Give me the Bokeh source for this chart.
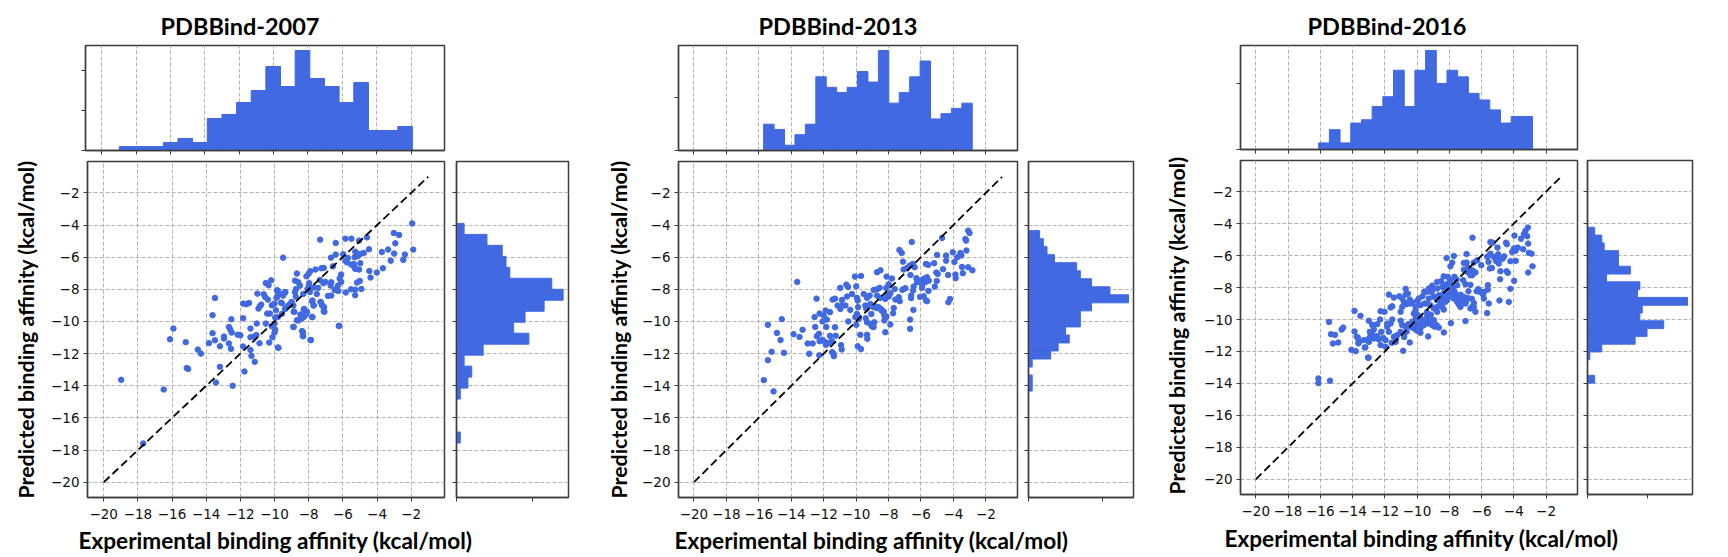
import numpy as np
from bokeh.embed import file_html
from bokeh.layouts import column, row
from bokeh.models import FixedTicker, Range1d, Title
from bokeh.plotting import figure
from bokeh.resources import INLINE

# tick values and labels shared by the panels
ticks = [-20, -18, -16, -14, -12, -10, -8, -6, -4, -2]
tick_labels = ["\u221220", "\u221218", "\u221216", "\u221214", "\u221212", "\u221210", "\u22128", "\u22126", "\u22124", "\u22122"]
diagonal = [-20, -1]

titles = ["PDBBind-2007", "PDBBind-2013", "PDBBind-2016"]
xlabel = "Experimental binding affinity (kcal/mol)"
ylabel = "Predicted binding affinity (kcal/mol)"

# histogram counts, 20 bins each
top_2007 = [1, 1, 1, 2, 3, 2, 8, 9, 12, 15, 21, 16, 25, 18, 16, 12, 17, 5, 5, 6]
top_2013 = [5, 4, 1, 3, 5, 14, 12, 11, 12, 15, 13, 19, 9, 11, 14, 17, 6, 7, 8, 9]
top_2016 = [2, 6, 2, 8, 9, 13, 16, 24, 13, 24, 30, 20, 24, 22, 17, 15, 12, 8, 10, 10]
right_2007 = [1, 0, 0, 0, 1, 3, 4, 2, 7, 19, 15, 18, 23, 28, 25, 14, 13, 12, 8, 2]
right_2013 = [1, 1, 0, 1, 6, 8, 11, 10, 14, 14, 17, 27, 22, 17, 14, 13, 7, 5, 4, 3]
right_2016 = [3, 0, 0, 1, 6, 20, 25, 32, 22, 23, 42, 21, 22, 8, 18, 13, 13, 7, 6, 3]

# bin limits of the histograms
top_limits = [(-18.98, -1.92), (-15.7, -2.84), (-16.1, -2.84)]
right_limits = [(-17.56, -3.9), (-14.33, -4.35), (-13.98, -4.23)]
top_ticks = [[0, 10, 20], [0, 10], [0, 20]]
right_ticks = [[0, 20], [0, 20], [0, 25]]

# (experimental, predicted) points
points_2007 = [
    (-18.98, -13.63), (-16.49, -14.23), (-17.69, -17.59), (-15.92, -10.44), (-16.12, -11.11), (-15.2, -11.29),
    (-14.49, -11.75), (-14.31, -12.0), (-15.14, -12.9), (-15.06, -12.95), (-13.49, -8.54), (-13.63, -9.61),
    (-13.63, -10.73), (-13.84, -11.35), (-13.49, -11.17), (-13.2, -11.54), (-12.96, -10.94), (-12.96, -11.06),
    (-12.67, -11.37), (-12.55, -11.7), (-13.2, -12.82), (-13.43, -13.8), (-12.45, -14.0), (-12.67, -10.34),
    (-12.53, -9.86), (-12.59, -10.5), (-12.51, -10.69), (-11.84, -9.8), (-12.16, -10.82), (-12.0, -10.86),
    (-11.84, -11.56), (-11.76, -13.11), (-11.41, -10.44), (-11.41, -10.98), (-11.2, -10.94), (-11.06, -10.84),
    (-10.88, -11.35), (-11.41, -11.77), (-11.35, -12.14), (-11.16, -12.51), (-11.04, -10.13), (-11.84, -8.89),
    (-11.65, -8.93), (-11.49, -8.85), (-11.0, -8.27), (-10.94, -9.2), (-10.78, -8.95), (-10.86, -9.06),
    (-10.63, -8.31), (-10.55, -8.48), (-10.39, -8.64), (-10.51, -7.61), (-10.35, -7.75), (-10.2, -7.44),
    (-10.43, -9.51), (-10.27, -9.51), (-10.51, -10.13), (-10.31, -11.31), (-10.12, -10.98), (-9.8, -11.62),
    (-10.0, -10.13), (-10.16, -10.3), (-9.96, -10.5), (-10.0, -10.69), (-10.16, -8.99), (-10.0, -8.89),
    (-9.92, -9.3), (-9.86, -8.06), (-9.78, -8.27), (-9.88, -8.52), (-9.61, -8.83), (-9.47, -8.27),
    (-9.37, -8.19), (-9.96, -9.76), (-8.88, -10.34), (-8.88, -9.39), (-9.0, -8.79), (-9.18, -8.99),
    (-9.37, -9.2), (-8.39, -10.6), (-8.35, -10.9), (-7.9, -11.15), (-8.69, -9.93), (-8.49, -9.82),
    (-8.29, -9.72), (-8.49, -9.57), (-8.29, -9.26), (-8.1, -9.41), (-7.8, -9.72), (-7.8, -8.75),
    (-7.7, -9.0), (-7.31, -8.79), (-7.22, -8.99), (-7.12, -9.1), (-7.12, -9.37), (-6.24, -10.28),
    (-1.94, -3.9), (-1.88, -5.53), (-2.37, -5.84), (-2.46, -6.17), (-3.02, -4.5), (-2.71, -4.62),
    (-2.93, -5.14), (-3.0, -5.78), (-3.2, -6.22), (-3.35, -5.53), (-3.72, -5.68), (-3.66, -6.69),
    (-4.01, -6.96), (-4.38, -7.27), (-4.45, -6.86), (-4.47, -5.51), (-4.59, -4.77), (-5.05, -4.97),
    (-5.5, -4.85), (-5.85, -4.85), (-6.42, -5.12), (-7.33, -4.91), (-9.5, -6.03), (-4.78, -5.74),
    (-4.97, -5.8), (-5.27, -5.66), (-5.18, -5.8), (-5.31, -6.0), (-5.14, -5.94), (-5.98, -5.82),
    (-6.42, -5.84), (-6.7, -6.03), (-5.71, -6.05), (-5.85, -6.22), (-5.77, -6.32), (-4.98, -6.38),
    (-5.52, -6.46), (-5.36, -6.42), (-5.32, -6.63), (-5.27, -6.73), (-5.05, -6.77), (-6.58, -6.57),
    (-7.12, -6.67), (-7.26, -6.69), (-7.6, -6.77), (-7.91, -6.88), (-8.01, -7.04), (-8.13, -7.19),
    (-8.69, -7.02), (-6.1, -7.08), (-6.19, -7.33), (-6.1, -7.54), (-7.35, -7.42), (-7.02, -7.54),
    (-7.14, -7.62), (-6.68, -7.56), (-6.72, -7.77), (-6.29, -7.77), (-6.39, -7.98), (-5.01, -7.48),
    (-5.17, -7.58), (-4.92, -7.98), (-5.52, -8.0), (-5.28, -8.02), (-5.83, -8.2), (-5.28, -8.37),
    (-6.27, -8.1), (-6.68, -8.39), (-6.87, -8.41), (-6.48, -8.04), (-7.97, -7.62), (-7.99, -7.77),
    (-8.07, -7.98), (-8.8, -7.46), (-8.61, -7.56), (-8.51, -7.77), (-8.74, -7.98), (-8.8, -8.18),
    (-7.68, -7.89), (-7.45, -7.91), (-7.93, -8.16), (-7.53, -8.29), (-8.32, -8.29), (-8.76, -8.45),
    (-9.01, -8.8), (-9.57, -8.87), (-8.9, -9.01), (-7.78, -8.7), (-7.72, -9.01), (-7.29, -8.8),
    (-7.21, -9.01), (-7.1, -9.13), (-7.08, -9.4), (-8.84, -9.4), (-8.26, -9.22), (-8.13, -9.49),
    (-8.22, -9.63), (-7.78, -9.73), (-8.45, -9.63), (-8.42, -9.84), (-8.61, -9.94), (-9.38, -9.22),
    (-9.19, -9.01), (-9.57, -9.53), (-9.81, -9.73), (-8.9, -10.34), (-8.34, -10.67), (-8.32, -10.92),
    (-7.87, -11.16), (-6.21, -10.27), (-9.77, -11.64), (-9.81, -8.08), (-9.73, -8.29), (-9.38, -8.18),
    (-9.5, -8.39), (-9.87, -8.51),
]

points_2013 = [
    (-3.09, -4.35), (-3.01, -4.5), (-3.26, -4.87), (-3.22, -4.97), (-4.7, -4.81), (-6.57, -5.06),
    (-7.33, -5.55), (-7.19, -5.74), (-5.01, -5.86), (-4.04, -5.7), (-3.57, -5.74), (-3.51, -5.9),
    (-3.77, -6.01), (-3.2, -5.59), (-4.45, -5.9), (-4.45, -6.22), (-3.94, -6.3), (-7.11, -6.28),
    (-5.69, -6.42), (-5.56, -6.48), (-5.19, -6.38), (-3.47, -6.61), (-3.09, -6.63), (-2.83, -6.82),
    (-4.64, -6.75), (-3.42, -7.0), (-3.88, -7.08), (-3.86, -7.31), (-4.33, -7.11), (-5.05, -6.96),
    (-4.97, -7.04), (-6.39, -6.63), (-6.51, -6.42), (-6.7, -6.53), (-6.86, -6.67), (-7.07, -6.77),
    (-6.65, -7.11), (-8.71, -6.94), (-8.5, -6.82), (-10.07, -7.21), (-9.7, -7.17), (-8.12, -7.21),
    (-7.79, -7.33), (-13.63, -7.54), (-10.6, -7.71), (-10.5, -7.85), (-9.99, -7.81), (-10.98, -7.91),
    (-7.99, -7.69), (-8.14, -7.91), (-7.62, -7.98), (-8.92, -8.04), (-8.71, -8.0), (-8.55, -7.91),
    (-6.28, -7.31), (-6.24, -7.56), (-6.45, -7.83), (-6.04, -7.46), (-5.83, -7.35), (-5.63, -7.25),
    (-5.52, -7.46), (-5.73, -7.56), (-5.93, -7.71), (-5.93, -7.91), (-5.15, -7.83), (-5.03, -7.48),
    (-5.54, -8.1), (-6.49, -8.08), (-6.61, -8.39), (-6.61, -8.55), (-7.07, -7.98), (-6.96, -7.93),
    (-7.15, -8.04), (-6.06, -8.47), (-5.83, -8.43), (-5.69, -8.7), (-5.63, -8.74), (-4.21, -8.6),
    (-4.31, -8.8), (-7.89, -8.25), (-7.99, -8.45), (-8.2, -8.6), (-8.09, -8.39), (-7.58, -8.64),
    (-7.37, -8.49), (-7.31, -8.74), (-8.71, -8.39), (-8.51, -8.53), (-9.53, -8.29), (-9.33, -8.53),
    (-9.16, -8.39), (-10.26, -8.29), (-10.56, -8.45), (-9.95, -8.53), (-9.9, -8.7), (-10.87, -8.66),
    (-11.3, -8.58), (-11.45, -8.64), (-12.44, -8.58), (-11.14, -9.01), (-10.97, -9.22), (-10.66, -9.01),
    (-10.87, -9.01), (-10.36, -9.28), (-9.88, -9.11), (-9.43, -9.01), (-9.37, -9.22), (-9.12, -8.91),
    (-8.92, -9.11), (-8.71, -9.18), (-8.47, -9.22), (-8.3, -9.38), (-8.14, -9.69), (-9.06, -9.53),
    (-7.68, -9.16), (-7.72, -9.49), (-6.47, -9.28), (-6.67, -9.88), (-6.67, -10.46), (-8.26, -9.94),
    (-7.89, -10.19), (-8.2, -10.67), (-9.41, -9.8), (-9.33, -10.05), (-9.12, -10.15), (-8.88, -10.05),
    (-9.02, -10.31), (-9.95, -9.53), (-10.05, -9.73), (-9.84, -9.73), (-9.99, -10.21), (-10.48, -10.0),
    (-9.74, -10.83), (-9.33, -10.83), (-9.31, -11.08), (-9.9, -11.54), (-9.7, -11.72), (-10.93, -11.47),
    (-10.89, -11.74), (-11.47, -11.91), (-11.39, -12.01), (-11.37, -12.16), (-11.3, -10.36), (-11.8, -9.88),
    (-12.07, -10.0), (-11.88, -9.32), (-11.61, -9.42), (-12.0, -9.63), (-12.25, -9.51), (-12.56, -9.73),
    (-12.52, -10.34), (-11.84, -10.34), (-13.3, -10.52), (-13.86, -10.79), (-13.49, -10.96), (-14.58, -9.86),
    (-15.44, -10.21), (-14.88, -10.71), (-14.66, -11.16), (-15.21, -11.89), (-14.45, -11.95), (-15.44, -12.41),
    (-15.69, -13.65), (-15.09, -14.35), (-12.99, -11.37), (-12.68, -11.37), (-12.89, -12.01), (-12.27, -12.1),
    (-12.29, -10.77), (-12.42, -10.92), (-12.25, -11.23), (-12.07, -11.14), (-11.9, -11.29), (-11.7, -11.35),
    (-11.86, -11.45), (-11.49, -11.23), (-11.61, -10.89), (-11.26, -10.89), (-8.61, -9.11), (-8.41, -9.34),
    (-8.14, -9.73), (-8.26, -9.63), (-8.82, -9.05), (-9.84, -9.84), (-9.02, -10.25), (-8.92, -10.35),
]

points_2016 = [
    (-16.12, -13.69), (-16.12, -13.98), (-15.4, -13.83), (-15.46, -10.15), (-15.34, -10.92), (-15.09, -10.96),
    (-15.22, -11.5), (-14.89, -11.44), (-14.68, -10.63), (-14.58, -10.5), (-13.88, -9.46), (-13.51, -9.77),
    (-13.88, -10.75), (-14.07, -11.9), (-13.8, -11.98), (-13.74, -11.08), (-13.63, -11.4), (-13.63, -11.5),
    (-13.04, -12.38), (-13.24, -11.75), (-3.13, -4.25), (-3.28, -4.46), (-3.38, -4.67), (-3.17, -4.79),
    (-3.96, -4.75), (-6.56, -4.88), (-5.45, -5.15), (-5.3, -5.19), (-4.48, -5.19), (-4.43, -5.29),
    (-5.01, -5.5), (-3.11, -5.25), (-3.42, -5.6), (-4.0, -5.56), (-3.9, -5.71), (-4.1, -5.77),
    (-3.86, -5.56), (-3.07, -5.83), (-2.9, -5.88), (-6.93, -5.9), (-5.49, -5.94), (-4.97, -5.92),
    (-5.24, -6.08), (-5.57, -6.4), (-7.72, -6.02), (-8.17, -6.15), (-4.21, -6.35), (-3.88, -6.33),
    (-5.09, -6.35), (-4.93, -6.5), (-7.1, -6.46), (-6.93, -6.44), (-6.48, -6.44), (-6.02, -6.6),
    (-7.82, -6.44), (-7.93, -6.67), (-2.84, -6.67), (-3.11, -7.06), (-5.49, -6.81), (-5.36, -6.77),
    (-4.83, -6.98), (-4.45, -6.98), (-4.37, -7.08), (-7.1, -6.88), (-6.85, -6.75), (-6.58, -6.92),
    (-6.38, -7.06), (-6.69, -7.23), (-4.85, -7.48), (-3.98, -7.58), (-8.09, -7.33), (-7.68, -7.33),
    (-7.93, -7.58), (-8.09, -7.75), (-7.14, -7.54), (-7.0, -7.79), (-6.69, -7.83), (-8.75, -7.65),
    (-9.06, -7.88), (-9.27, -8.06), (-9.41, -8.27), (-7.51, -7.85), (-7.82, -8.0), (-8.03, -8.13),
    (-10.71, -8.08), (-11.75, -8.44), (-11.44, -8.63), (-10.57, -8.38), (-10.71, -8.44), (-5.61, -7.85),
    (-5.61, -8.13), (-5.86, -8.27), (-6.11, -8.27), (-6.31, -8.23), (-4.21, -8.08), (-6.81, -8.23),
    (-5.86, -8.69), (-5.55, -9.0), (-4.89, -8.81), (-4.31, -8.9), (-7.1, -8.58), (-6.85, -8.65),
    (-7.62, -8.38), (-8.34, -8.69), (-8.13, -8.79), (-7.93, -8.54), (-8.55, -8.9), (-7.72, -8.69),
    (-7.51, -8.9), (-7.41, -9.06), (-7.0, -9.0), (-6.48, -8.96), (-6.58, -9.21), (-6.69, -9.31),
    (-6.38, -9.52), (-7.31, -9.21), (-7.2, -9.0), (-5.65, -9.6), (-7.0, -10.1), (-7.9, -10.23),
    (-8.34, -10.81), (-9.31, -11.06), (-10.45, -11.44), (-10.86, -11.96), (-13.01, -12.4), (-12.26, -9.48),
    (-12.02, -9.52), (-12.99, -10.08), (-12.78, -10.35), (-12.47, -10.29), (-12.29, -10.0), (-12.93, -10.77),
    (-12.78, -10.88), (-12.68, -10.63), (-12.88, -10.98), (-13.3, -11.29), (-12.99, -11.4), (-13.21, -11.75),
    (-12.99, -11.19), (-13.67, -11.13), (-13.61, -11.4), (-12.68, -11.19), (-12.37, -11.25), (-12.26, -11.6),
    (-11.95, -11.29), (-11.95, -11.71), (-12.22, -10.77), (-11.85, -10.46), (-11.64, -10.25), (-11.54, -10.0),
    (-11.75, -10.77), (-11.44, -11.08), (-11.23, -10.98), (-11.33, -11.4), (-11.58, -11.46), (-11.02, -10.08),
    (-10.92, -10.35), (-10.71, -10.46), (-10.82, -10.88), (-10.65, -10.77), (-10.4, -10.46), (-10.3, -10.15),
    (-10.2, -10.56), (-10.2, -9.63), (-9.95, -9.73), (-9.79, -9.88), (-10.09, -9.94), (-9.89, -10.25),
    (-9.79, -10.56), (-9.79, -10.83), (-9.58, -10.35), (-9.37, -9.83), (-9.17, -9.94), (-8.96, -10.04),
    (-8.79, -10.35), (-8.65, -10.5), (-9.06, -10.35), (-9.27, -10.25), (-9.54, -9.0), (-9.99, -8.83),
    (-10.3, -8.94), (-10.65, -9.04), (-10.92, -9.21), (-11.02, -9.52), (-10.92, -8.69), (-10.82, -8.9),
    (-11.54, -9.17), (-11.64, -9.25), (-10.09, -9.21), (-9.79, -9.1), (-9.37, -9.0), (-9.17, -9.1),
    (-8.75, -9.21), (-8.34, -9.38), (-8.96, -9.31), (-8.75, -9.52), (-9.27, -8.69), (-8.96, -8.58),
    (-8.75, -8.79), (-8.65, -8.48), (-9.06, -8.17), (-8.75, -8.06), (-8.44, -7.96), (-8.24, -8.06),
    (-9.66, -8.54), (-12.68, -10.35), (-11.85, -10.25), (-11.02, -10.77), (-9.99, -10.35), (-9.48, -10.04),
    (-8.96, -10.25), (-10.09, -9.42), (-7.93, -8.38), (-7.41, -8.65), (-8.24, -8.9), (-8.03, -8.48),
    (-6.27, -6.29), (-5.14, -6.19), (-6.89, -7.02), (-6.48, -7.02), (-6.58, -7.23), (-5.45, -5.88),
    (-5.65, -6.08), (-5.04, -6.19), (-10.4, -9.0), (-9.89, -8.69), (-8.44, -9.21), (-7.31, -8.79),
    (-6.48, -9.21), (-8.24, -7.85), (-12.47, -11.04), (-12.1, -11.15), (-11.3, -11.21), (-10.8, -11.1),
    (-10.55, -10.3), (-10.0, -10.7), (-9.65, -10.15), (-8.9, -10.45), (-9.4, -9.55), (-9.15, -9.7),
    (-8.55, -9.1), (-8.6, -8.6), (-8.35, -8.35), (-7.7, -8.2), (-7.3, -8.45), (-7.15, -8.75),
    (-6.95, -8.85), (-6.6, -8.7), (-6.2, -8.1), (-5.9, -8.45), (-4.7, -6.2), (-4.6, -6.05),
    (-3.75, -5.5), (-3.55, -4.95), (-11.1, -8.55), (-10.45, -8.75), (-9.55, -8.25), (-9.1, -8.3),
    (-8.5, -7.6), (-8.35, -7.3), (-7.55, -7.5),
]

# frame and border sizes of each panel, in pixels
panels = [
    dict(years=(top_2007, right_2007, points_2007), sw=448, hw=124, sl=85, hl=8, top_h=155, sc_h=368,
         ttl_off=75, xl_off=-7, yl_off=-1, yl_stand=20, cap_h=34),
    dict(years=(top_2013, right_2013, points_2013), sw=449, hw=116, sl=106, hl=7, top_h=155, sc_h=368,
         ttl_off=80, xl_off=-4, yl_off=-1, yl_stand=16, cap_h=34),
    dict(years=(top_2016, right_2016, points_2016), sw=444, hw=115, sl=103, hl=6, top_h=154, sc_h=366,
         ttl_off=67, xl_off=-16, yl_off=0, yl_stand=24, cap_h=35),
]

BLUE = "royalblue"
SPINE = "#3c3c3c"
GRID = "#b4b4b4"
BOLD = "Lato"


def style(p, xticks, yticks, xlabels=False, ylabels=False):
    for ax, tk, show in ((p.xaxis[0], xticks, xlabels), (p.yaxis[0], yticks, ylabels)):
        ax.ticker = FixedTicker(ticks=tk)
        ax.axis_line_color = SPINE
        ax.axis_line_width = 1.3
        ax.major_tick_line_color = SPINE
        ax.major_tick_in = 0
        ax.major_tick_out = 4
        ax.minor_tick_line_color = None
        if show:
            ax.major_label_overrides = dict(zip(ticks, tick_labels))
            ax.major_label_text_font = "DejaVu Sans"
            ax.major_label_text_font_size = "13.5px"
            ax.major_label_text_color = "#111111"
            ax.major_label_standoff = 4
        else:
            ax.major_label_overrides = {t: "" for t in tk}
            ax.major_label_text_font_size = "1px"
            ax.major_label_standoff = 0
    p.outline_line_color = SPINE
    p.outline_line_width = 1.5
    p.background_fill_color = "white"
    for g in (p.xgrid[0], p.ygrid[0]):
        g.grid_line_color = GRID
        g.grid_line_dash = "4 2"
        g.grid_line_width = 1


def make_panel(i, cfg):
    top, right, pts = cfg["years"]
    edges_t = np.linspace(*top_limits[i], len(top) + 1)
    edges_r = np.linspace(*right_limits[i], len(right) + 1)
    lim = (-20.95, -0.05)

    # top histogram
    pt = figure(width=cfg["sw"], height=cfg["top_h"], output_backend="svg", toolbar_location=None,
                x_range=Range1d(*lim), y_range=Range1d(0, max(top) * 1.05),
                min_border_left=cfg["sl"], min_border_right=4, min_border_top=45, min_border_bottom=5)
    pt.quad(left=edges_t[:-1], right=edges_t[1:], bottom=0, top=top, color=BLUE, line_width=1)
    style(pt, ticks, top_ticks[i])
    pt.ygrid.visible = False
    pt.title.text = titles[i]
    pt.title.align = "left"
    pt.title.offset = cfg["ttl_off"]
    pt.title.text_font = BOLD
    pt.title.text_font_size = "23.5px"
    pt.title.text_font_style = "bold"
    pt.title.text_color = "black"
    pt.title.standoff = 11

    # scatter
    ps = figure(width=cfg["sw"], height=cfg["sc_h"], output_backend="svg", toolbar_location=None,
                x_range=Range1d(*lim), y_range=Range1d(*lim),
                min_border_left=cfg["sl"], min_border_right=4, min_border_top=6, min_border_bottom=26)
    style(ps, ticks, ticks, True, True)
    ps.xaxis[0].major_label_standoff = 7
    xs, ys = zip(*pts)
    ps.scatter(xs, ys, size=5.5, color=BLUE)
    ps.line(diagonal, diagonal, line_color="black", line_width=1.8, line_dash="8 4")
    ps.add_layout(Title(text=ylabel, align="left", offset=cfg["yl_off"], standoff=cfg["yl_stand"], text_font=BOLD,
                        text_font_size="21.35px", text_font_style="bold", text_color="black"), "left")

    # right histogram
    pr = figure(width=cfg["hw"], height=cfg["sc_h"], output_backend="svg", toolbar_location=None,
                x_range=Range1d(0, max(right) * 1.05), y_range=Range1d(*lim),
                min_border_left=cfg["hl"], min_border_right=4, min_border_top=6, min_border_bottom=26)
    pr.quad(left=0, right=right, bottom=edges_r[:-1], top=edges_r[1:], color=BLUE, line_width=1)
    style(pr, right_ticks[i], ticks)
    pr.xgrid.visible = False

    # strip under both plots, only there to carry the x label
    cap = figure(width=cfg["sw"] + cfg["hw"], height=cfg["cap_h"], output_backend="svg", toolbar_location=None,
                 x_range=Range1d(0, 1), y_range=Range1d(0, 1),
                 min_border_left=0, min_border_right=0, min_border_top=cfg["cap_h"] - 2, min_border_bottom=0)
    cap.axis.visible = False
    cap.grid.visible = False
    cap.outline_line_color = None
    cap.title.text = xlabel
    cap.title.align = "left"
    cap.title.offset = cfg["xl_off"]
    cap.title.standoff = 8
    cap.title.text_font = BOLD
    cap.title.text_font_size = "22.6px"
    cap.title.text_font_style = "bold"
    cap.title.text_color = "black"

    return column(pt, row(ps, pr), cap)


layout = row(*[make_panel(i, c) for i, c in enumerate(panels)])
open("out.html", "w").write(file_html(layout, INLINE))
